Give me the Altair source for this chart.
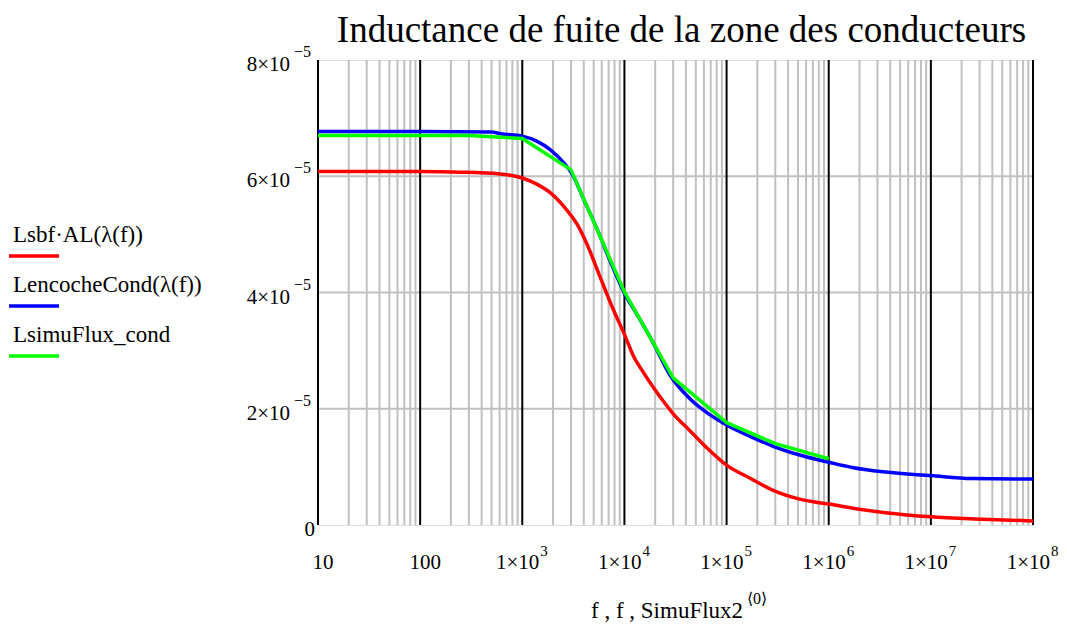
import altair as alt
import pandas as pd

FONT = "Liberation Serif"

chart_title = "Inductance de fuite de la zone des conducteurs"
x_axis_title = "f , f , SimuFlux2"
x_axis_title_sup = "⟨0⟩"

series_names = ["Lsbf·AL(λ(f))", "LencocheCond(λ(f))", "LsimuFlux_cond"]
series_colors = ["#ff0000", "#0000ff", "#00ff00"]

# Lsbf·AL(λ(f))  (red)
f_red = [10, 100, 250, 600, 1000, 1400, 1900, 2550, 3450, 4300, 5800, 7850, 10000,
         12300, 14400, 21000, 30500, 44500, 64700, 1e5, 1.72e5, 2.9e5, 5.3e5, 1e6,
         2e6, 3.6e6, 1e7, 3.2e7, 1e8]
L_red = [6.08e-5, 6.08e-5, 6.07e-5, 6.04e-5, 5.97e-5, 5.86e-5, 5.71e-5, 5.48e-5, 5.17e-5,
         4.83e-5, 4.26e-5, 3.69e-5, 3.28e-5, 2.90e-5, 2.70e-5, 2.27e-5, 1.90e-5, 1.61e-5,
         1.32e-5, 1.03e-5, 0.80e-5, 0.59e-5, 0.44e-5, 0.36e-5, 0.27e-5, 0.21e-5, 0.14e-5,
         0.10e-5, 0.07e-5]

# LencocheCond(λ(f))  (blue)
f_blue = [10, 100, 500, 615, 1000, 1400, 1900, 2550, 3100, 4000, 5400, 7300, 10000,
          13300, 19300, 27900, 44500, 64700, 1e5, 1.72e5, 2.9e5, 5.3e5, 1e6, 1.7e6,
          3.6e6, 1e7, 2.5e7, 1e8]
L_blue = [6.77e-5, 6.77e-5, 6.76e-5, 6.73e-5, 6.69e-5, 6.60e-5, 6.45e-5, 6.23e-5, 6.03e-5,
          5.60e-5, 5.09e-5, 4.53e-5, 3.99e-5, 3.62e-5, 3.12e-5, 2.58e-5, 2.16e-5, 1.93e-5,
          1.72e-5, 1.52e-5, 1.35e-5, 1.20e-5, 1.08e-5, 0.99e-5, 0.91e-5, 0.85e-5, 0.80e-5,
          0.79e-5]

# LsimuFlux_cond  (green)
f_green = [10, 100, 300, 1000, 3000, 10000, 30000, 1e5, 3e5, 1e6]
L_green = [6.70e-5, 6.70e-5, 6.70e-5, 6.65e-5, 6.11e-5, 4.01e-5, 2.53e-5, 1.76e-5,
           1.40e-5, 1.14e-5]

x_tick_values = [10, 100, 1e3, 1e4, 1e5, 1e6, 1e7, 1e8]
x_tick_base = ["10", "100", "1×10", "1×10", "1×10", "1×10", "1×10", "1×10"]
x_tick_exp = ["", "", "3", "4", "5", "6", "7", "8"]

y_tick_values = [0, 2e-5, 4e-5, 6e-5, 8e-5]
y_tick_base = ["0", "2×10", "4×10", "6×10", "8×10"]
y_tick_exp = ["", "−5", "−5", "−5", "−5"]

major_x = x_tick_values
minor_x = [m * 10 ** k for k in range(1, 8) for m in range(2, 10)]
y_grid = [2e-5, 4e-5, 6e-5]

W, H = 715, 465

xs = alt.Scale(type="log", domain=[10, 1e8], nice=False)
ys = alt.Scale(domain=[0, 8e-5], nice=False, zero=True)

df_minor = pd.DataFrame({"v": minor_x})
df_major = pd.DataFrame({"v": major_x})
df_ygrid = pd.DataFrame({"v": y_grid})
df_xt = pd.DataFrame({"v": x_tick_values, "base": x_tick_base, "exp": x_tick_exp})
df_yt = pd.DataFrame({"v": y_tick_values, "base": y_tick_base, "exp": y_tick_exp})

minor = alt.Chart(df_minor).mark_rule(color="#c0c0c0", strokeWidth=2).encode(
    x=alt.X("v:Q", scale=xs, axis=None))
ygrid = alt.Chart(df_ygrid).mark_rule(color="#c0c0c0", strokeWidth=2).encode(
    y=alt.Y("v:Q", scale=ys, axis=None))
major = alt.Chart(df_major).mark_rule(color="black", strokeWidth=2).encode(
    x=alt.X("v:Q", scale=xs, axis=None))

layers = [minor, ygrid, major]

series_data = [(f_red, L_red), (f_blue, L_blue), (f_green, L_green)]
series_interp = ["monotone", "monotone", "linear"]
for name, color, (fv, lv), interp in zip(series_names, series_colors, series_data,
                                         series_interp):
    d = pd.DataFrame({"f": fv, "L": lv})
    layers.append(
        alt.Chart(d).mark_line(color=color, strokeWidth=3.5, clip=True,
                               strokeJoin="round", interpolate=interp).encode(
            x=alt.X("f:Q", scale=xs, axis=None),
            y=alt.Y("L:Q", scale=ys, axis=None),
        )
    )

# x tick labels
XL_Y = H + 38
xl_plain = alt.Chart(df_xt).transform_filter("datum.exp == ''").mark_text(
    font=FONT, fontSize=21, align="center", baseline="middle", dx=5).encode(
    x=alt.X("v:Q", scale=xs, axis=None), y=alt.value(XL_Y), text="base:N")
xl_base = alt.Chart(df_xt).transform_filter("datum.exp != ''").mark_text(
    font=FONT, fontSize=21, align="right", baseline="middle", dx=17).encode(
    x=alt.X("v:Q", scale=xs, axis=None), y=alt.value(XL_Y), text="base:N")
xl_exp = alt.Chart(df_xt).transform_filter("datum.exp != ''").mark_text(
    font=FONT, fontSize=15, align="left", baseline="middle", dx=18, dy=-12).encode(
    x=alt.X("v:Q", scale=xs, axis=None), y=alt.value(XL_Y), text="exp:N")

# y tick labels
yl_plain = alt.Chart(df_yt).transform_filter("datum.exp == ''").mark_text(
    font=FONT, fontSize=21, align="right", baseline="middle", dy=5).encode(
    y=alt.Y("v:Q", scale=ys, axis=None), x=alt.value(-3), text="base:N")
yl_base = alt.Chart(df_yt).transform_filter("datum.exp != ''").mark_text(
    font=FONT, fontSize=21, align="right", baseline="middle", dy=5).encode(
    y=alt.Y("v:Q", scale=ys, axis=None), x=alt.value(-28), text="base:N")
yl_exp = alt.Chart(df_yt).transform_filter("datum.exp != ''").mark_text(
    font=FONT, fontSize=16, align="left", baseline="middle", dy=-8).encode(
    y=alt.Y("v:Q", scale=ys, axis=None), x=alt.value(-24), text="exp:N")

layers += [xl_plain, xl_base, xl_exp, yl_plain, yl_base, yl_exp]

# chart title
layers.append(alt.Chart(pd.DataFrame({"t": [chart_title]})).mark_text(
    font=FONT, fontSize=37, align="center", baseline="alphabetic").encode(
    x=alt.value(363.5), y=alt.value(-18), text="t:N"))

# x axis title
layers.append(alt.Chart(pd.DataFrame({"t": [x_axis_title]})).mark_text(
    font=FONT, fontSize=23, align="left", baseline="alphabetic").encode(
    x=alt.value(273), y=alt.value(H + 93), text="t:N"))
layers.append(alt.Chart(pd.DataFrame({"t": [x_axis_title_sup]})).mark_text(
    font=FONT, fontSize=16, align="left", baseline="alphabetic").encode(
    x=alt.value(429), y=alt.value(H + 79), text="t:N"))

# custom legend (label above a short line sample)
for i, (name, color) in enumerate(zip(series_names, series_colors)):
    yb = 182 + 50 * i
    layers.append(alt.Chart(pd.DataFrame({"t": [name]})).mark_text(
        font=FONT, fontSize=23, align="left", baseline="alphabetic").encode(
        x=alt.value(-305), y=alt.value(yb), text="t:N"))
    layers.append(alt.Chart(pd.DataFrame({"t": [name]})).mark_rule(
        color=color, strokeWidth=3.5).encode(
        x=alt.value(-309), x2=alt.value(-259), y=alt.value(yb + 14)))

chart = alt.layer(*layers).properties(
    width=W, height=H,
    autosize=alt.AutoSizeParams(type="none"),
    padding={"left": 310, "top": 52, "right": 26, "bottom": 99},
).configure_view(stroke="black", strokeWidth=2.5).configure(background="white")

chart.save("out.html", embed_options={"renderer": "svg", "actions": False})
